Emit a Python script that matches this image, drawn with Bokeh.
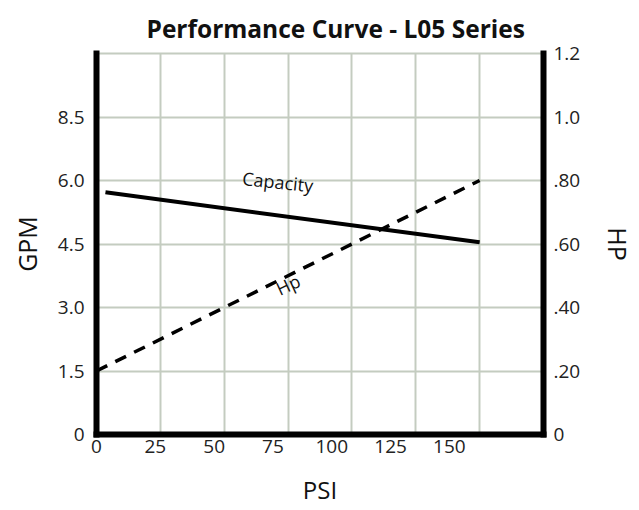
from bokeh.plotting import figure
from bokeh.models import Range1d, LinearAxis, FixedTicker, Grid, ColumnDataSource
from bokeh.core.properties import value
from bokeh.embed import file_html
from bokeh.resources import INLINE

# ---- data ----
psi_label_ticks = [0, 25, 50, 75, 100, 125, 150]
psi_grid_ticks = [0, 25, 50, 75, 100, 125, 150, 175]
gpm_ticks = [0, 1.5, 3.0, 4.5, 6.0, 7.5]
gpm_tick_labels = ["0", "1.5", "3.0", "4.5", "6.0", "8.5"]
hp_ticks = [0, 0.2, 0.4, 0.6, 0.8, 1.0, 1.2]
hp_tick_labels = ["0", ".20", ".40", ".60", ".80", "1.0", "1.2"]

capacity_psi = [3.5, 150]
capacity_gpm = [5.72, 4.54]
hp_psi = [0, 150]
hp_hp = [0.20, 0.80]

curve_names = ["Capacity", "Hp"]
curve_name_psi = [71, 75]
curve_name_gpm = [5.97, 3.54]
curve_name_angle = [-6, 25]

FONT = "Open Sans"
GRID = "#c4ccc0"

p = figure(frame_width=447, frame_height=381,
           x_range=Range1d(0, 175), y_range=Range1d(0, 9),
           x_axis_location=None, y_axis_location=None,
           output_backend="svg", toolbar_location=None,
           min_border_left=96, min_border_right=86,
           min_border_top=52, min_border_bottom=69,
           title="Performance Curve - L05 Series")
p.background_fill_color = "white"
p.border_fill_color = "white"
p.extra_x_ranges = {"lbl": Range1d(0, 190)}
p.extra_y_ranges = {"hp": Range1d(0, 1.2)}

p.center = [
    Grid(dimension=0, ticker=FixedTicker(ticks=psi_grid_ticks),
         grid_line_color=GRID, grid_line_width=2),
    Grid(dimension=1, ticker=FixedTicker(ticks=gpm_ticks),
         grid_line_color=GRID, grid_line_width=2),
]
p.outline_line_color = GRID
p.outline_line_width = 2

p.title.align = "left"
p.title.offset = 50
p.title.standoff = 18
p.title.text_font = FONT
p.title.text_font_size = "24.5px"
p.title.text_font_style = "bold"
p.title.text_color = "#111"


def style_axis(ax, size):
    ax.axis_line_width = 6
    ax.axis_line_color = "black"
    ax.axis_line_cap = "square"
    ax.major_tick_in = 0
    ax.major_tick_out = 0
    ax.minor_tick_in = 0
    ax.minor_tick_out = 0
    ax.major_label_text_font = FONT
    ax.major_label_text_font_size = "19px"
    ax.major_label_text_color = "#222"
    ax.axis_label_text_font = FONT
    ax.axis_label_text_font_size = size
    ax.axis_label_text_font_style = "normal"
    ax.axis_label_text_color = "#111"


left = LinearAxis(ticker=FixedTicker(ticks=gpm_ticks),
                  major_label_overrides=dict(zip(gpm_ticks, gpm_tick_labels)),
                  axis_label="GPM", major_label_standoff=12, axis_label_standoff=11)
style_axis(left, "25px")
p.add_layout(left, "left")

right = LinearAxis(y_range_name="hp", ticker=FixedTicker(ticks=hp_ticks),
                   major_label_overrides=dict(zip(hp_ticks, hp_tick_labels)),
                   axis_label="HP", major_label_standoff=10, axis_label_standoff=18)
style_axis(right, "25px")
p.add_layout(right, "right")

bottom = LinearAxis(x_range_name="lbl", ticker=FixedTicker(ticks=psi_label_ticks),
                    axis_label="PSI", major_label_standoff=5, axis_label_standoff=17)
style_axis(bottom, "24px")
p.add_layout(bottom, "below")

p.line(capacity_psi, capacity_gpm, line_width=4, line_color="black")
p.line(hp_psi, hp_hp, y_range_name="hp", line_width=3.5,
       line_color="black", line_dash="12 9")

src = ColumnDataSource(dict(x=curve_name_psi, y=curve_name_gpm,
                            t=curve_names, a=curve_name_angle))
p.text(x="x", y="y", text="t", angle="a", angle_units="deg", source=src,
       text_font=value(FONT), text_font_size="18px", text_color="#111",
       text_align="center", text_baseline="middle")

open("out.html", "w").write(file_html(p, INLINE))
